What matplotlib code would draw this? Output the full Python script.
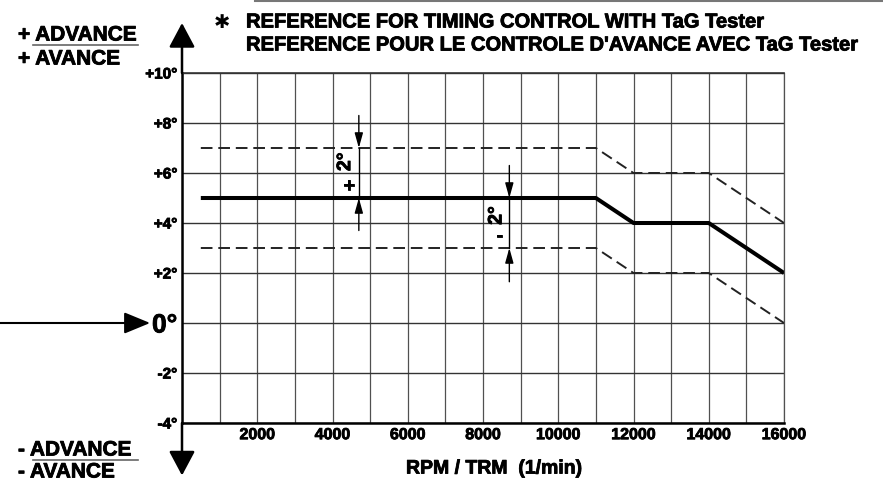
import matplotlib
matplotlib.use("Agg")
import matplotlib.pyplot as plt
import matplotlib.patheffects as pe
from matplotlib.lines import Line2D

# -----------------------------------------------------------
# Data: ignition advance vs engine speed (TaG Tester reference)
# -----------------------------------------------------------
rpm = [500, 11000, 12000, 14000, 16000]
nominal = [5, 5, 4, 4, 2]        # nominal advance (deg)
upper = [7, 7, 6, 6, 4]          # +2 deg tolerance
lower = [3, 3, 2, 2, 0]          # -2 deg tolerance

x_ticks = [2000, 4000, 6000, 8000, 10000, 12000, 14000, 16000]
y_ticks = [-4, -2, 0, 2, 4, 6, 8, 10]
y_tick_labels = ["-4°", "-2°", "0°", "+2°", "+4°", "+6°", "+8°", "+10°"]

plus_tol_rpm = 4700    # where the "+2°" dimension is drawn
minus_tol_rpm = 8700   # where the "-2°" dimension is drawn

BOLD = ["Liberation Sans", "DejaVu Sans"]
# slight stroke so the text looks as heavy as the printed original
HEAVY = [pe.withStroke(linewidth=0.6, foreground="black")]

fig = plt.figure(figsize=(8.83, 4.94), dpi=100)
ax = fig.add_axes([182 / 883, 71 / 494, 602 / 883, 350 / 494])

# grid
ax.set_xlim(0, 16000)
ax.set_ylim(-4, 10)
ax.set_xticks(x_ticks)
ax.set_xticks(range(0, 16001, 1000), minor=True)
ax.set_yticks(y_ticks)
ax.grid(True, axis="x", which="both", color="#505050", lw=0.9)
ax.grid(True, axis="y", which="major", color="#333333", lw=1.0)
ax.tick_params(which="both", length=0)
ax.tick_params(axis="y", pad=3.5)
ax.tick_params(axis="x", pad=3)

ax.set_xticklabels([str(t) for t in x_ticks], fontsize=11.5, fontweight="bold", family=BOLD)
ax.set_yticklabels(y_tick_labels, fontsize=11, fontweight="bold", family=BOLD)
for lab in ax.get_yticklabels():
    if lab.get_text() == "0°":
        lab.set_fontsize(19)
for lab in ax.get_xticklabels() + ax.get_yticklabels():
    lab.set_path_effects(HEAVY)

for side in ["left", "bottom"]:
    ax.spines[side].set_linewidth(1.8)
    ax.spines[side].set_color("black")
ax.spines["top"].set_linewidth(1.2)
ax.spines["top"].set_color("#333333")
ax.spines["right"].set_linewidth(0.9)
ax.spines["right"].set_color("#505050")

# curves
ax.plot(rpm, upper, color="#222222", lw=1.4, dashes=(6, 3))
ax.plot(rpm, lower, color="#222222", lw=1.4, dashes=(6, 3))
ax.plot(rpm, nominal, color="black", lw=2.9, solid_capstyle="butt")

# tolerance dimensions
small_head = dict(arrowstyle="-|>,head_length=0.9,head_width=0.25", color="black", lw=1.0,
                  shrinkA=0, shrinkB=0, mutation_scale=10)
dim_font = dict(fontsize=14, fontweight="bold", family=BOLD, path_effects=HEAVY,
                ha="center", va="center")
ax.plot([plus_tol_rpm, plus_tol_rpm], [upper[0], nominal[0]], color="black", lw=1.0)
ax.annotate("", xy=(plus_tol_rpm, upper[0]), xytext=(plus_tol_rpm, 8.3), arrowprops=small_head)
ax.annotate("", xy=(plus_tol_rpm, nominal[0]), xytext=(plus_tol_rpm, 3.7), arrowprops=small_head)
ax.text(plus_tol_rpm - 350, 6.45, "2°", rotation=90, **dim_font)
ax.text(plus_tol_rpm - 270, 5.45, "+", **dim_font)

ax.plot([minus_tol_rpm, minus_tol_rpm], [nominal[1], lower[1]], color="black", lw=1.0)
ax.annotate("", xy=(minus_tol_rpm, nominal[1]), xytext=(minus_tol_rpm, 6.3), arrowprops=small_head)
ax.annotate("", xy=(minus_tol_rpm, lower[1]), xytext=(minus_tol_rpm, 1.65), arrowprops=small_head)
ax.text(minus_tol_rpm - 330, 4.3, "2°", rotation=90, **dim_font)
ax.text(minus_tol_rpm - 250, 3.45, "-", **dim_font)

# axis arrows (advance up / down)
big_head = dict(arrowstyle="-|>,head_length=0.75,head_width=0.4", color="black", lw=1.8,
                shrinkA=0, shrinkB=0, mutation_scale=20)
ax.annotate("", xy=(0, 12.0), xytext=(0, 10), arrowprops=big_head, annotation_clip=False)
ax.annotate("", xy=(0, -6.1), xytext=(0, -4), arrowprops=big_head, annotation_clip=False)

# arrow pointing to the 0° line
ax.annotate("", xy=(-0.053, 0), xytext=(-0.31, 0), xycoords=ax.get_yaxis_transform(),
            arrowprops=dict(arrowstyle="-|>,head_length=0.8,head_width=0.33", color="black",
                            lw=1.5, shrinkA=0, shrinkB=0, mutation_scale=20),
            annotation_clip=False)

# labels
txt = dict(fontweight="bold", family=BOLD, path_effects=HEAVY, va="center")
fig.text(494 / 883, 1 - 469 / 494, "RPM / TRM  (1/min)", ha="center", fontsize=14, **txt)

fig.text(214 / 883, 1 - 22 / 494, "✱", ha="left", va="center", fontsize=14, family=["DejaVu Sans"])
fig.text(246 / 883, 1 - 22 / 494, "REFERENCE FOR TIMING CONTROL WITH TaG Tester",
         ha="left", fontsize=14.5, **txt)
fig.text(246 / 883, 1 - 45 / 494, "REFERENCE POUR LE CONTROLE D'AVANCE AVEC TaG Tester",
         ha="left", fontsize=14.5, **txt)

fig.text(18 / 883, 1 - 35 / 494, "+ ADVANCE", ha="left", fontsize=15, **txt)
fig.text(18 / 883, 1 - 59 / 494, "+ AVANCE", ha="left", fontsize=15, **txt)
fig.text(18 / 883, 1 - 450 / 494, "- ADVANCE", ha="left", fontsize=15, **txt)
fig.text(18 / 883, 1 - 472 / 494, "- AVANCE", ha="left", fontsize=15, **txt)
fig.add_artist(Line2D([33 / 883, 138 / 883], [1 - 45 / 494, 1 - 45 / 494], color="#666666", lw=1.2))
fig.add_artist(Line2D([33 / 883, 138 / 883], [1 - 460 / 494, 1 - 460 / 494], color="#666666", lw=1.2))

# frame line at the top edge of the page
fig.add_artist(Line2D([255 / 883, 1], [0.997, 0.997], color="#777777", lw=1.5))

fig.savefig("out.png", dpi=100)
